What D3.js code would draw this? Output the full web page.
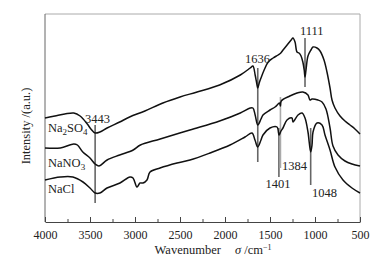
<!DOCTYPE html>
<html>
<head>
<meta charset="utf-8">
<script src="https://cdn.jsdelivr.net/npm/d3@7"></script>
<style>
  body { margin: 0; background: #fff; }
  text { font-family: "Liberation Serif", "Times New Roman", serif; fill: #222; }
</style>
</head>
<body>
<div id="chart"></div>
<script>
// wavenumber (cm-1) and intensity (a.u.)
const na2so4 = [
  [4000,104],[3890,106],[3780,108],[3680,109],[3610,106],[3530,98],[3490,93],[3443,89],[3390,90],
  [3310,94],[3170,100],[3060,105],[2890,111],[2690,119],[2500,125],[2310,130],[2060,137],[1830,147],
  [1720,154],[1690,156],[1665,147],[1650,140],[1636,134],[1620,139],[1600,144],[1565,152],[1520,160],
  [1465,164],[1410,167],[1380,169],[1355,172],[1310,177],[1265,182],[1245,184],[1222,180],[1200,170],
  [1178,169],[1155,166],[1135,160],[1120,152],[1111,145],[1100,152],[1078,166],[1045,172],[1022,175],
  [978,174],[944,171],[900,162],[867,150],[833,134],[811,122],[778,114],[722,106],[667,101],[611,97],
  [556,93],[500,88]
];
const nano3 = [
  [4000,74],[3830,74],[3680,78],[3640,77],[3580,70],[3500,64],[3443,58],[3400,56],[3310,62],[3170,67],
  [3020,72],[2940,77],[2720,83],[2390,92],[2060,101],[1830,109],[1720,114],[1690,114],[1665,107],
  [1636,97],[1600,103],[1578,107],[1500,112],[1444,115],[1410,118],[1395,119],[1384,116],[1375,121],
  [1280,126],[1200,129],[1135,130],[1078,127],[1056,122],[1033,123],[967,122],[922,120],[878,113],
  [833,94],[800,76],[744,67],[667,61],[589,58],[500,56]
];
const nacl = [
  [4000,42],[3830,45],[3690,45],[3578,40],[3500,34],[3443,29],[3390,29],[3311,34],[3167,39],[3056,45],
  [3022,44],[2978,35],[2944,39],[2911,39],[2867,42],[2833,50],[2722,54],[2533,59],[2389,62],[2167,69],
  [1944,77],[1778,85],[1700,89],[1667,82],[1636,75],[1600,82],[1578,87],[1500,94],[1422,95],[1400,87],
  [1378,91],[1356,94],[1311,102],[1256,104],[1244,100],[1189,107],[1144,109],[1111,104],[1078,90],
  [1048,70],[1033,77],[1022,90],[978,99],[922,97],[889,87],[833,72],[778,55],[689,42],[589,34],[500,29]
];
const seriesNames = ["Na2SO4", "NaNO3", "NaCl"];
const labelLevels = [90, 55, 29];

// marker lines: wavenumber, top, bottom (a.u.)
const markers = [
  [3443, 97, 19], [1636, 154, 60], [1111, 184, 135],
  [1401, 94, 45], [1384, 125, 54], [1048, 94, 37]
];
const markerLabels = [
  ["3443", 3417, 99, "middle"], ["1636", 1640, 159, "middle"], ["1111", 1167, 187, "start"],
  ["1401", 1411, 34, "middle"], ["1384", 1367, 52, "start"], ["1048", 1033, 25, "start"]
];
const xTicks = [4000, 3500, 3000, 2500, 2000, 1500, 1000, 500];

const W = 389, H = 260;
const margin = { top: 14, right: 29, bottom: 38, left: 45 };
const width = W - margin.left - margin.right;
const height = H - margin.top - margin.bottom;

const svg = d3.select("#chart").append("svg")
    .attr("width", W).attr("height", H);
const g = svg.append("g")
    .attr("transform", "translate(" + margin.left + "," + margin.top + ")");

const x = d3.scaleLinear().domain([4000, 500]).range([0, width]);
const y = d3.scaleLinear().domain([0, 208]).range([height, 0]);

// frame
g.append("line").attr("x1", 0).attr("x2", width).attr("y1", 0).attr("y2", 0)
    .attr("stroke", "#aaa").attr("stroke-width", 1);
g.append("line").attr("x1", width).attr("x2", width).attr("y1", 0).attr("y2", height)
    .attr("stroke", "#aaa").attr("stroke-width", 1);
g.append("line").attr("x1", 0).attr("x2", 0).attr("y1", 0).attr("y2", height)
    .attr("stroke", "#666").attr("stroke-width", 1);

// x axis, ticks inward
const xAxis = g.append("g")
    .attr("transform", "translate(0," + height + ")")
    .call(d3.axisBottom(x).tickValues(xTicks).tickFormat(d3.format("d"))
        .tickSizeInner(-5).tickSizeOuter(0).tickPadding(8));
xAxis.select(".domain").attr("stroke", "#444");
xAxis.selectAll(".tick line").attr("stroke", "#444");
xAxis.selectAll("text").style("font-size", "12px").attr("fill", "#222")
    .style("font-family", "'Liberation Serif', serif");
g.append("g").attr("transform", "translate(0," + height + ")")
    .call(d3.axisBottom(x).tickValues(d3.range(3750, 500, -500)).tickSize(-3).tickFormat(""))
    .call(a => a.select(".domain").remove())
    .selectAll("line").attr("stroke", "#444");

// marker lines
g.selectAll(".marker").data(markers).enter().append("line")
    .attr("class", "marker")
    .attr("x1", d => x(d[0])).attr("x2", d => x(d[0]))
    .attr("y1", d => y(d[1])).attr("y2", d => y(d[2]))
    .attr("stroke", d => d[0] === 1384 ? "#aaa" : "#666")
    .attr("stroke-width", 1.6);

// curves
const line = d3.line().x(d => x(d[0])).y(d => y(d[1])).curve(d3.curveCatmullRom.alpha(0.5));
[na2so4, nano3, nacl].forEach(s => {
  g.append("path").datum(s)
    .attr("d", line)
    .attr("fill", "none")
    .attr("stroke", "#111")
    .attr("stroke-width", 1.5)
    .attr("stroke-linejoin", "round");
});

// marker labels
g.selectAll(".mlabel").data(markerLabels).enter().append("text")
    .attr("x", d => x(d[1])).attr("y", d => y(d[2]))
    .attr("text-anchor", d => d[3])
    .style("font-size", "12.5px")
    .text(d => d[0]);

// series labels with subscripts
seriesNames.forEach((name, i) => {
  const t = g.append("text").attr("x", 3).attr("y", y(labelLevels[i])).style("font-size", "12.5px");
  name.split(/(\d)/).filter(p => p).forEach(p => {
    const sp = t.append("tspan").text(p);
    if (/\d/.test(p)) sp.attr("dy", 3).style("font-size", "9px");
    else if (t.selectAll("tspan").size() > 1) sp.attr("dy", -3);
  });
});

// axis titles
const xt = svg.append("text")
    .attr("x", 213).attr("y", 254)
    .attr("text-anchor", "middle")
    .style("font-size", "12.5px");
xt.append("tspan").text("Wavenumber");
xt.append("tspan").attr("dx", 14).style("font-style", "italic").text("σ");
xt.append("tspan").text(" /cm");
xt.append("tspan").attr("dy", -4).style("font-size", "8px").text("−1");

svg.append("text")
    .attr("transform", "translate(30,126) rotate(-90)")
    .attr("text-anchor", "middle")
    .style("font-size", "12.5px")
    .text("Intensity /(a.u.)");
</script>
</body>
</html>
